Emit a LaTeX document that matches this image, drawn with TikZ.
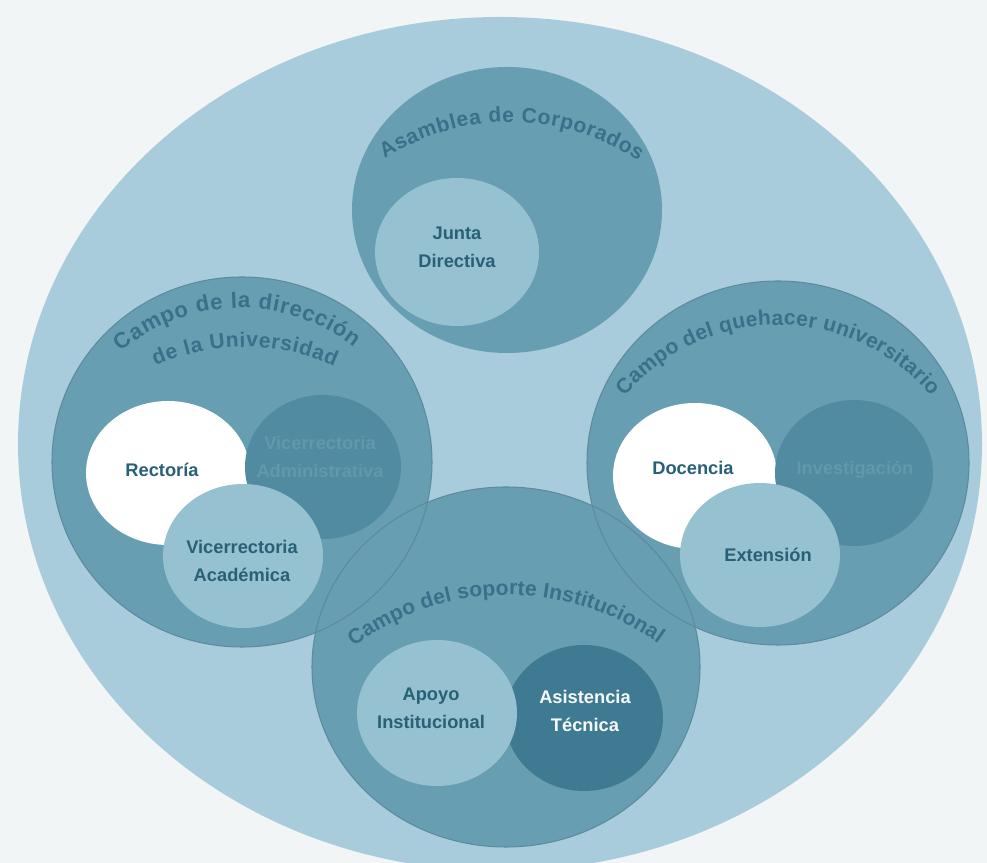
\documentclass[tikz,border=0pt]{standalone}
\usepackage{fontspec}
\setmainfont{Liberation Sans}
\usetikzlibrary{decorations.text}
\definecolor{pagegray}{RGB}{242,245,246}
\definecolor{outerblue}{RGB}{168,204,219}
\definecolor{midblue}{RGB}{103,158,178}
\definecolor{lightblue}{RGB}{150,193,208}
\definecolor{darkblue}{RGB}{80,139,161}
\definecolor{deepblue}{RGB}{62,122,146}
\definecolor{labeltext}{RGB}{40,96,117}
\definecolor{dimtext}{RGB}{98,152,173}
\definecolor{arctext}{RGB}{56,113,138}
\newcommand{\arcfont}{\fontsize{6.3}{7}\selectfont\bfseries}
\newcommand{\arcfontsm}{\fontsize{6.0}{7}\selectfont\bfseries}
\tikzset{
  lbl/.style={font=\fontsize{5.2}{8}\selectfont\bfseries, align=center, text=labeltext},
  arclabel/.style 2 args={decorate, decoration={text along path, text={|#1|#2},
    text align={fit to path}, text color=arctext}},
}

\begin{document}
\begin{tikzpicture}

\clip (0,0) rectangle (9.87,8.63);
\path[fill=pagegray] (0,0) rectangle (9.87,8.63);
\path[fill=outerblue] (5.00,4.19) ellipse [x radius=4.82, y radius=4.27];

% campos
\path[fill=midblue] (5.07,6.53) ellipse [x radius=1.55, y radius=1.43];
\path[fill=midblue] (2.42,4.01) ellipse [x radius=1.90, y radius=1.85];
\path[fill=midblue] (7.78,4.00) ellipse [x radius=1.91, y radius=1.82];
\path[fill=midblue] (5.06,1.96) ellipse [x radius=1.94, y radius=1.80];
\path[draw=midblue!88!black, line width=0.3pt] (2.42,4.01) ellipse [x radius=1.90, y radius=1.85];
\path[draw=midblue!88!black, line width=0.3pt] (7.78,4.00) ellipse [x radius=1.91, y radius=1.82];
\path[draw=midblue!88!black, line width=0.3pt] (5.06,1.96) ellipse [x radius=1.94, y radius=1.80];

% dependencias
\path[fill=lightblue] (4.57,6.11) ellipse [x radius=0.82, y radius=0.74];
\path[fill=white] (1.68,3.90) ellipse [x radius=0.82, y radius=0.72];
\path[fill=darkblue] (3.23,3.96) ellipse [x radius=0.78, y radius=0.72];
\path[fill=lightblue] (2.43,3.07) ellipse [x radius=0.80, y radius=0.72];
\path[fill=white] (6.95,3.87) ellipse [x radius=0.82, y radius=0.73];
\path[fill=darkblue] (8.54,3.90) ellipse [x radius=0.79, y radius=0.73];
\path[fill=lightblue] (7.60,3.08) ellipse [x radius=0.80, y radius=0.72];
\path[fill=deepblue] (5.84,1.45) ellipse [x radius=0.79, y radius=0.73];
\path[fill=lightblue] (4.37,1.50) ellipse [x radius=0.80, y radius=0.73];

% textos curvos
\path[arclabel={\arcfontsm}{Asamblea de Corporados}] ([shift={(123:2.30)}]5.10,5.11) arc[start angle=123, end angle=56, radius=2.30];
\path[arclabel={\arcfont}{Campo de la dirección}] ([shift={(130:1.85)}]2.40,3.70) arc[start angle=130, end angle=52, radius=1.85];
\path[arclabel={\arcfontsm}{de la Universidad}] ([shift={(114:2.20)}]2.45,2.96) arc[start angle=114, end angle=66, radius=2.20];
\path[arclabel={\arcfontsm}{Campo del quehacer universitario}] ([shift={(140:2.00)}]7.78,3.38) arc[start angle=140, end angle=40, radius=2.00];
\path[arclabel={\arcfontsm}{Campo del soporte Institucional}] ([shift={(127:2.56)}]5.08,0.12) arc[start angle=127, end angle=54, radius=2.56];

\node[lbl] (junta) at (4.57,6.16) {Junta\\Directiva};
\node[lbl] (rectoria) at (1.62,3.93) {Rectoría};
\node[lbl, text=dimtext] (vadmin) at (3.20,4.06) {Vicerrectoria\\Administrativa};
\node[lbl] (vacad) at (2.42,3.02) {Vicerrectoria\\Académica};
\node[lbl] (docencia) at (6.93,3.95) {Docencia};
\node[lbl, text=dimtext] (invest) at (8.55,3.93) {Investigación};
\node[lbl] (extension) at (7.68,3.08) {Extensión};
\node[lbl] (apoyo) at (4.31,1.55) {Apoyo\\Institucional};
\node[lbl, text=white!92!lightblue] (asist) at (5.85,1.52) {Asistencia\\Técnica};
\end{tikzpicture}
\end{document}
